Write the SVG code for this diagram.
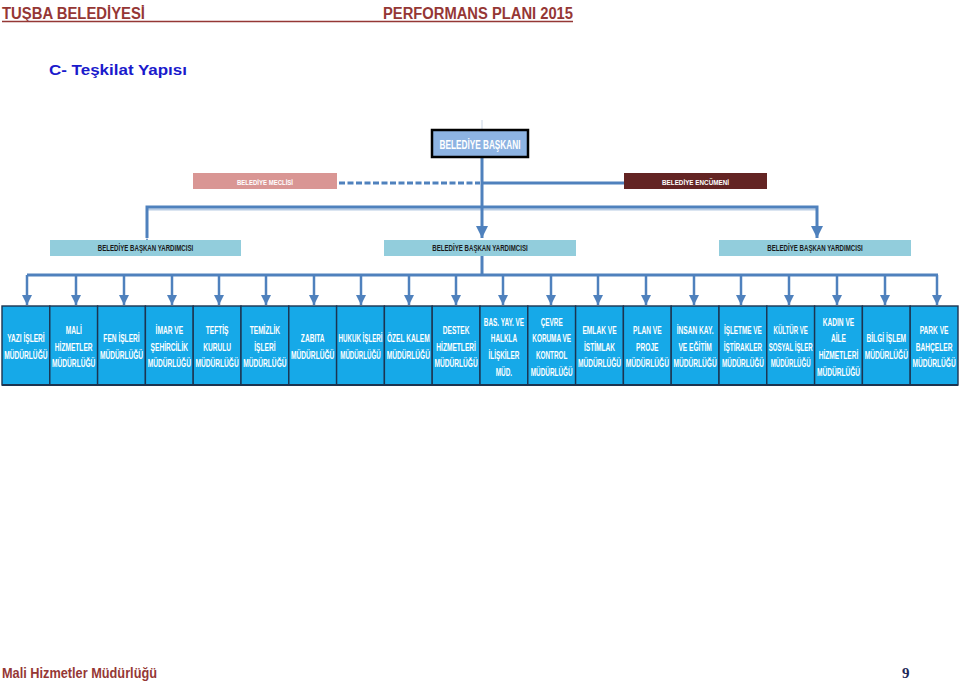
<svg xmlns="http://www.w3.org/2000/svg" width="960" height="682" viewBox="0 0 960 682">
<defs>
<style>
.hdr{font-family:"Liberation Sans",Arial,sans-serif;font-weight:bold;fill:#953735}
.unit{fill:#16a9e8;stroke:#1c3450;stroke-width:1.4}
.ut{font-family:"Liberation Sans",Arial,sans-serif;font-weight:bold;font-size:10px;fill:#ffffff;text-anchor:middle}
.yt{font-family:"Liberation Sans",Arial,sans-serif;font-weight:bold;font-size:8.5px;fill:#1a1a1a;text-anchor:middle}
.wt{font-family:"Liberation Sans",Arial,sans-serif;font-weight:bold;fill:#ffffff;text-anchor:middle}
.yard{fill:#92cddc}
.ln{stroke:#4f81bd;stroke-width:3;fill:none}
.ar{stroke:#4f81bd;stroke-width:2.5;fill:none}
</style>
<marker id="ah" viewBox="0 0 10 10" refX="10" refY="5" markerWidth="10" markerHeight="10" markerUnits="userSpaceOnUse" orient="auto">
<path d="M0,0 L10,5 L0,10 z" fill="#4f81bd"/>
</marker>
<marker id="ahb" viewBox="0 0 10 10" refX="10" refY="5" markerWidth="12" markerHeight="12" markerUnits="userSpaceOnUse" orient="auto">
<path d="M0,0 L10,5 L0,10 z" fill="#4f81bd"/>
</marker>
</defs>
<rect width="960" height="682" fill="#ffffff"/>

<!-- header -->
<text class="hdr" x="2" y="19" font-size="16" textLength="143" lengthAdjust="spacingAndGlyphs">TUŞBA BELEDİYESİ</text>
<text class="hdr" x="383" y="19" font-size="16" textLength="190" lengthAdjust="spacingAndGlyphs">PERFORMANS PLANI 2015</text>
<line x1="2" y1="21.5" x2="573" y2="21.5" stroke="#953735" stroke-width="1.5"/>
<text x="49" y="75" font-family="Liberation Sans,Arial,sans-serif" font-weight="bold" font-size="15.5" fill="#1a1acc" textLength="138" lengthAdjust="spacingAndGlyphs">C- Teşkilat Yapısı</text>

<!-- connectors -->
<g id="connectors">
<line x1="482" y1="120" x2="482" y2="130" stroke="#c8d4e4" stroke-width="1"/>
<line class="ln" x1="339" y1="183" x2="480" y2="183" stroke-dasharray="6,2.5" stroke-width="4"/>
<line class="ln" x1="482" y1="183" x2="624" y2="183"/>
<line class="ln" x1="482" y1="157" x2="482" y2="207"/>
<line x1="147" y1="209.5" x2="817" y2="209.5" stroke="#b8cce4" stroke-width="2"/>
<polyline class="ln" points="147,238 147,207 817,207 817,238" marker-end="url(#ahb)" marker-start="url(#ahb)"/>
<line class="ln" x1="482" y1="207" x2="482" y2="238" marker-end="url(#ahb)"/>
<line class="ln" x1="482" y1="256" x2="482" y2="275"/>
<line class="ln" x1="27" y1="275" x2="938" y2="275"/>
<g class="ar" marker-end="url(#ah)">
<line x1="27" y1="275" x2="27" y2="305"/>
<line x1="76" y1="275" x2="76" y2="305"/>
<line x1="124" y1="275" x2="124" y2="305"/>
<line x1="172" y1="275" x2="172" y2="305"/>
<line x1="219" y1="275" x2="219" y2="305"/>
<line x1="266" y1="275" x2="266" y2="305"/>
<line x1="314" y1="275" x2="314" y2="305"/>
<line x1="361" y1="275" x2="361" y2="305"/>
<line x1="409" y1="275" x2="409" y2="305"/>
<line x1="456" y1="275" x2="456" y2="305"/>
<line x1="503" y1="275" x2="503" y2="305"/>
<line x1="551" y1="275" x2="551" y2="305"/>
<line x1="598" y1="275" x2="598" y2="305"/>
<line x1="646" y1="275" x2="646" y2="305"/>
<line x1="694" y1="275" x2="694" y2="305"/>
<line x1="741" y1="275" x2="741" y2="305"/>
<line x1="789" y1="275" x2="789" y2="305"/>
<line x1="837" y1="275" x2="837" y2="305"/>
<line x1="885" y1="275" x2="885" y2="305"/>
<line x1="937" y1="275" x2="937" y2="305"/>
</g>
</g>

<!-- top nodes -->
<g id="baskan">
<rect x="432" y="130" width="96" height="27" fill="#8db3e2" stroke="#000000" stroke-width="2.5"/>
<text class="wt" x="480" y="149" font-size="12.5" textLength="81" lengthAdjust="spacingAndGlyphs">BELEDİYE BAŞKANI</text>
</g>
<g id="meclis">
<rect x="193" y="173" width="144" height="16" fill="#d99694"/>
<text class="wt" x="265" y="184.5" font-size="8" textLength="56" lengthAdjust="spacingAndGlyphs">BELEDİYE MECLİSİ</text>
</g>
<g id="encumen">
<rect x="624" y="173" width="143" height="16" fill="#632423"/>
<text class="wt" x="695.5" y="184.5" font-size="8" textLength="67" lengthAdjust="spacingAndGlyphs">BELEDİYE ENCÜMENİ</text>
</g>
<g id="yard1">
<rect class="yard" x="50" y="240" width="191" height="16"/>
<text class="yt" transform="translate(145.5 0) scale(0.72 1)" x="0" y="251">BELEDİYE BAŞKAN YARDIMCISI</text>
</g>
<g id="yard2">
<rect class="yard" x="384" y="240" width="192" height="16"/>
<text class="yt" transform="translate(480 0) scale(0.72 1)" x="0" y="251">BELEDİYE BAŞKAN YARDIMCISI</text>
</g>
<g id="yard3">
<rect class="yard" x="719" y="240" width="192" height="16"/>
<text class="yt" transform="translate(815 0) scale(0.72 1)" x="0" y="251">BELEDİYE BAŞKAN YARDIMCISI</text>
</g>

<!-- units -->
<g id="u1"><rect class="unit" x="2" y="306" width="47.8" height="79"/>
<text class="ut" transform="translate(25.9 0) scale(0.66 1)"><tspan x="0" y="342">YAZI İŞLERİ</tspan><tspan x="0" y="358.7">MÜDÜRLÜĞÜ</tspan></text></g>
<g id="u2"><rect class="unit" x="49.8" y="306" width="47.8" height="79"/>
<text class="ut" transform="translate(73.7 0) scale(0.66 1)"><tspan x="0" y="334">MALİ</tspan><tspan x="0" y="350.7">HİZMETLER</tspan><tspan x="0" y="367.4">MÜDÜRLÜĞÜ</tspan></text></g>
<g id="u3"><rect class="unit" x="97.6" y="306" width="47.8" height="79"/>
<text class="ut" transform="translate(121.5 0) scale(0.66 1)"><tspan x="0" y="342">FEN İŞLERİ</tspan><tspan x="0" y="358.7">MÜDÜRLÜĞÜ</tspan></text></g>
<g id="u4"><rect class="unit" x="145.4" y="306" width="47.8" height="79"/>
<text class="ut" transform="translate(169.3 0) scale(0.66 1)"><tspan x="0" y="334">İMAR VE</tspan><tspan x="0" y="350.7">ŞEHİRCİLİK</tspan><tspan x="0" y="367.4">MÜDÜRLÜĞÜ</tspan></text></g>
<g id="u5"><rect class="unit" x="193.2" y="306" width="47.8" height="79"/>
<text class="ut" transform="translate(217.1 0) scale(0.66 1)"><tspan x="0" y="334">TEFTİŞ</tspan><tspan x="0" y="350.7">KURULU</tspan><tspan x="0" y="367.4">MÜDÜRLÜĞÜ</tspan></text></g>
<g id="u6"><rect class="unit" x="241" y="306" width="47.8" height="79"/>
<text class="ut" transform="translate(264.9 0) scale(0.66 1)"><tspan x="0" y="334">TEMİZLİK</tspan><tspan x="0" y="350.7">İŞLERİ</tspan><tspan x="0" y="367.4">MÜDÜRLÜĞÜ</tspan></text></g>
<g id="u7"><rect class="unit" x="288.8" y="306" width="47.8" height="79"/>
<text class="ut" transform="translate(312.7 0) scale(0.66 1)"><tspan x="0" y="342">ZABITA</tspan><tspan x="0" y="358.7">MÜDÜRLÜĞÜ</tspan></text></g>
<g id="u8"><rect class="unit" x="336.6" y="306" width="47.8" height="79"/>
<text class="ut" transform="translate(360.5 0) scale(0.62 1)"><tspan x="0" y="342">HUKUK İŞLERİ</tspan><tspan x="0" y="358.7">MÜDÜRLÜĞÜ</tspan></text></g>
<g id="u9"><rect class="unit" x="384.4" y="306" width="47.8" height="79"/>
<text class="ut" transform="translate(408.3 0) scale(0.66 1)"><tspan x="0" y="342">ÖZEL KALEM</tspan><tspan x="0" y="358.7">MÜDÜRLÜĞÜ</tspan></text></g>
<g id="u10"><rect class="unit" x="432.2" y="306" width="47.8" height="79"/>
<text class="ut" transform="translate(456.1 0) scale(0.66 1)"><tspan x="0" y="334">DESTEK</tspan><tspan x="0" y="350.7">HİZMETLERİ</tspan><tspan x="0" y="367.4">MÜDÜRLÜĞÜ</tspan></text></g>
<g id="u11"><rect class="unit" x="480" y="306" width="47.8" height="79"/>
<text class="ut" transform="translate(503.9 0) scale(0.64 1)"><tspan x="0" y="325.7">BAS. YAY. VE</tspan><tspan x="0" y="342.4">HALKLA</tspan><tspan x="0" y="359.1">İLİŞKİLER</tspan><tspan x="0" y="375.8">MÜD.</tspan></text></g>
<g id="u12"><rect class="unit" x="527.8" y="306" width="47.8" height="79"/>
<text class="ut" transform="translate(551.7 0) scale(0.64 1)"><tspan x="0" y="325.7">ÇEVRE</tspan><tspan x="0" y="342.4">KORUMA VE</tspan><tspan x="0" y="359.1">KONTROL</tspan><tspan x="0" y="375.8">MÜDÜRLÜĞÜ</tspan></text></g>
<g id="u13"><rect class="unit" x="575.6" y="306" width="47.8" height="79"/>
<text class="ut" transform="translate(599.5 0) scale(0.66 1)"><tspan x="0" y="334">EMLAK VE</tspan><tspan x="0" y="350.7">İSTİMLAK</tspan><tspan x="0" y="367.4">MÜDÜRLÜĞÜ</tspan></text></g>
<g id="u14"><rect class="unit" x="623.4" y="306" width="47.8" height="79"/>
<text class="ut" transform="translate(647.3 0) scale(0.66 1)"><tspan x="0" y="334">PLAN VE</tspan><tspan x="0" y="350.7">PROJE</tspan><tspan x="0" y="367.4">MÜDÜRLÜĞÜ</tspan></text></g>
<g id="u15"><rect class="unit" x="671.2" y="306" width="47.8" height="79"/>
<text class="ut" transform="translate(695.1 0) scale(0.66 1)"><tspan x="0" y="334">İNSAN KAY.</tspan><tspan x="0" y="350.7">VE EĞİTİM</tspan><tspan x="0" y="367.4">MÜDÜRLÜĞÜ</tspan></text></g>
<g id="u16"><rect class="unit" x="719" y="306" width="47.8" height="79"/>
<text class="ut" transform="translate(742.9 0) scale(0.64 1)"><tspan x="0" y="334">İŞLETME VE</tspan><tspan x="0" y="350.7">İŞTİRAKLER</tspan><tspan x="0" y="367.4">MÜDÜRLÜĞÜ</tspan></text></g>
<g id="u17"><rect class="unit" x="766.8" y="306" width="47.8" height="79"/>
<text class="ut" transform="translate(790.7 0) scale(0.61 1)"><tspan x="0" y="334">KÜLTÜR VE</tspan><tspan x="0" y="350.7">SOSYAL İŞLER</tspan><tspan x="0" y="367.4">MÜDÜRLÜĞÜ</tspan></text></g>
<g id="u18"><rect class="unit" x="814.6" y="306" width="47.8" height="79"/>
<text class="ut" transform="translate(838.5 0) scale(0.66 1)"><tspan x="0" y="325.7">KADIN VE</tspan><tspan x="0" y="342.4">AİLE</tspan><tspan x="0" y="359.1">HİZMETLERİ</tspan><tspan x="0" y="375.8">MÜDÜRLÜĞÜ</tspan></text></g>
<g id="u19"><rect class="unit" x="862.4" y="306" width="47.8" height="79"/>
<text class="ut" transform="translate(886.3 0) scale(0.66 1)"><tspan x="0" y="342">BİLGİ İŞLEM</tspan><tspan x="0" y="358.7">MÜDÜRLÜĞÜ</tspan></text></g>
<g id="u20"><rect class="unit" x="910.2" y="306" width="47.8" height="79"/>
<text class="ut" transform="translate(934.1 0) scale(0.66 1)"><tspan x="0" y="334">PARK VE</tspan><tspan x="0" y="350.7">BAHÇELER</tspan><tspan x="0" y="367.4">MÜDÜRLÜĞÜ</tspan></text></g>
<line x1="2" y1="385" x2="958" y2="385" stroke="#1c3450" stroke-width="2"/>

<!-- footer -->
<text class="hdr" x="2" y="678" font-size="14" textLength="155" lengthAdjust="spacingAndGlyphs">Mali Hizmetler Müdürlüğü</text>
<text x="902" y="678" font-family="Liberation Serif,Times New Roman,serif" font-weight="bold" font-size="15" fill="#1f2a5a">9</text>
</svg>
